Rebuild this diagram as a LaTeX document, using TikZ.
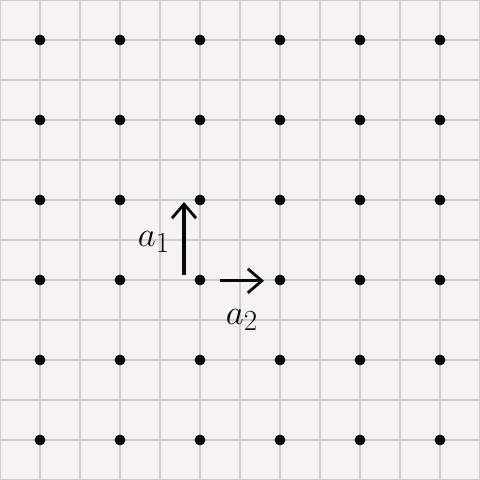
\documentclass[tikz,border=0pt]{standalone}
\usepackage{tikz}
\usetikzlibrary{arrows.meta, positioning}
\definecolor{paper}{RGB}{246,244,240}
\definecolor{gridgray}{RGB}{205,205,203}
\definecolor{ink}{RGB}{8,8,8}
\tikzset{
  site/.style={circle, fill=ink, inner sep=0pt, minimum size=0.27cm},
  vecarrow/.style={-{Straight Barb[length=0.35cm, width=0.6cm, line width=2pt]}, line width=2.2pt, color=ink},
  veclabel/.style={font=\fontsize{28}{30}\selectfont, text=ink, inner sep=0pt}
}

\begin{document}
\begin{tikzpicture}
  \useasboundingbox (0,0) rectangle (12,12);
  % paper and squares
  \fill[paper] (0,0) rectangle (12,12);
  \draw[gridgray, line width=1pt] (0,0) grid (12,12);

  % lattice points
  \foreach \i in {0,...,5}
    \foreach \j in {0,...,5}
      \node[site] (s\i\j) at (1+2*\i, 1+2*\j) {};

  % primitive vectors
  \coordinate (a1tail) at (4.6,5.12);
  \coordinate (a1head) at (4.6,6.95);
  \coordinate (a2tail) at (5.5,4.98);
  \coordinate (a2head) at (6.6,4.98);
  \draw[vecarrow] (a1tail) -- (a1head);
  \draw[vecarrow] (a2tail) -- (a2head);

  \node[veclabel] (a1lbl) at (3.85,5.95) {$a_1$};
  \node[veclabel] (a2lbl) at (6.05,4.0) {$a_2$};
\end{tikzpicture}
\end{document}
